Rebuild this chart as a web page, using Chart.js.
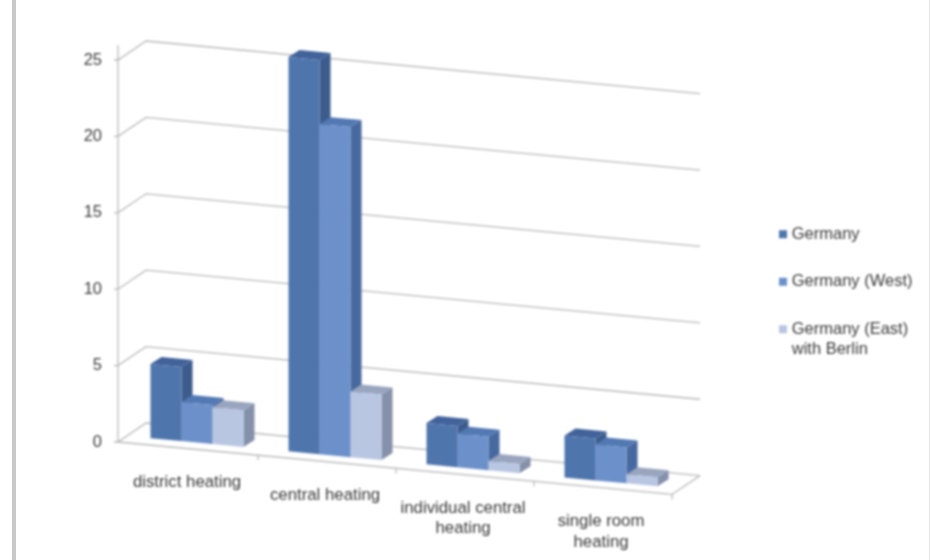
<!DOCTYPE html>
<html>
<head>
<meta charset="utf-8">
<script src="https://cdn.jsdelivr.net/npm/chart.js@4/dist/chart.umd.min.js"></script>
<style>
  html, body { margin: 0; background: #fff; }
  #frame { position: relative; width: 931px; height: 560px; overflow: hidden; }
  #frame canvas { display: block; filter: blur(0.8px); }
  .edge { position: absolute; top: 0; bottom: 0; background: #c9c9c9; }
</style>
</head>
<body>
<div id="frame">
  <canvas id="chart" width="931" height="560"></canvas>
  <div class="edge" style="left:12px;width:4px"></div>
  <div class="edge" style="left:929px;width:1px;background:#e6e6e6"></div>
</div>
<script>
const categories = ['district heating', 'central heating', ['individual central', 'heating'], ['single room', 'heating']]
const germany = [4.85, 25.8, 2.7, 2.75]
const germanyWest = [2.55, 21.6, 2.2, 2.35]
const germanyEast = [2.4, 4.3, 0.6, 0.6]

const faces = [
    { front: '#4f75ad', side: '#3d5c8d', top: '#41629a' },
    { front: '#6c90ca', side: '#47699f', top: '#5279b3' },
    { front: '#b9c6e2', side: '#8591aa', top: '#99a5bf' }
]

const slope = 0.095        // floor runs downhill to the right
const wall = { dx: 26, dy: -19 }
const barShift = { dx: 8, dy: -6 }
const barDepth = { dx: 11, dy: -7 }

const fakeDepth = {
    id: 'fakeDepth',
    afterLayout(chart) {
        // legend sits well away from the plot
        const legend = chart.legend
        const w = legend.width, h = legend.height
        legend.left = 751.5
        legend.right = legend.left + w
        legend.top = 44
        legend.bottom = legend.top + h
    },
    beforeDatasetsDraw(chart) {
        const { ctx, chartArea, scales } = chart
        const left = chartArea.left, axisX = left - 2
        const floorWidth = chartArea.right - chartArea.left
        ctx.save()
        ctx.strokeStyle = '#b9b9b9'
        ctx.lineWidth = 1.3

        scales.y.ticks.forEach((tick) => {
            const y = scales.y.getPixelForValue(tick.value)
            ctx.beginPath()
            ctx.moveTo(axisX - 4, y)
            ctx.lineTo(axisX, y)
            ctx.lineTo(left + wall.dx, y + wall.dy)
            ctx.lineTo(left + wall.dx + floorWidth + 2, y + wall.dy + slope * (floorWidth + 2))
            ctx.stroke()
        })

        const zero = scales.y.getPixelForValue(0)
        ctx.beginPath()
        ctx.moveTo(axisX, zero)
        ctx.lineTo(axisX, scales.y.getPixelForValue(25) - 15)
        ctx.stroke()

        // front and right edge of the floor
        ctx.beginPath()
        ctx.moveTo(axisX, zero)
        ctx.lineTo(left + floorWidth, zero + slope * floorWidth)
        ctx.lineTo(left + wall.dx + floorWidth + 2, zero + wall.dy + slope * (floorWidth + 2))
        ctx.stroke()

        categories.forEach((c, i) => {
            const x = left + (i + 1) * floorWidth / categories.length
            const y = zero + slope * (x - left)
            ctx.beginPath()
            ctx.moveTo(x, y)
            ctx.lineTo(x, y + 5)
            ctx.stroke()
        })

        // category labels follow the slope, so the axis can't place them
        ctx.fillStyle = '#3a3a3a'
        ctx.font = '16.8px "Liberation Sans"'
        ctx.textAlign = 'center'
        ctx.textBaseline = 'middle'
        categories.forEach((label, i) => {
            const x = scales.x.getPixelForTick(i)
            const y = zero + slope * (x - left) + 33.5
            const lines = Array.isArray(label) ? label : [label]
            lines.forEach((line, n) => ctx.fillText(line, x - 2, y + n * 20.5))
        })
        ctx.restore()
    },
    beforeDatasetDraw() {
        return false
    },
    afterDatasetsDraw(chart) {
        const { ctx, chartArea } = chart
        // left bar first so the next one covers its side face
        chart.data.datasets.forEach((dataset, i) => {
            const meta = chart.getDatasetMeta(i)
            ctx.save()
            ctx.translate(barShift.dx, barShift.dy)
            ctx.transform(1, slope, 0, 1, 0, -slope * chartArea.left)
            const dx = barDepth.dx
            const dy = barDepth.dy - slope * dx
            meta.data.forEach((bar) => {
                const l = bar.x - bar.width / 2, r = bar.x + bar.width / 2
                ctx.fillStyle = faces[i].side
                ctx.beginPath()
                ctx.moveTo(r, bar.y)
                ctx.lineTo(r + dx, bar.y + dy)
                ctx.lineTo(r + dx, bar.base + dy)
                ctx.lineTo(r, bar.base)
                ctx.closePath()
                ctx.fill()
                ctx.fillStyle = faces[i].top
                ctx.beginPath()
                ctx.moveTo(l, bar.y)
                ctx.lineTo(l + dx, bar.y + dy)
                ctx.lineTo(r + dx, bar.y + dy)
                ctx.lineTo(r, bar.y)
                ctx.closePath()
                ctx.fill()
            })
            meta.controller.draw()
            ctx.restore()
        })
    }
}

new Chart(document.getElementById('chart'), {
    type: 'bar',
    data: {
        labels: categories,
        datasets: [
            { label: 'Germany', data: germany, backgroundColor: faces[0].front },
            { label: 'Germany (West)', data: germanyWest, backgroundColor: faces[1].front },
            { label: ['Germany (East)', 'with Berlin'], data: germanyEast, backgroundColor: faces[2].front }
        ]
    },
    plugins: [fakeDepth],
    options: {
        responsive: false,
        animation: false,
        layout: { padding: { top: 60, right: 88, bottom: 0, left: 0 } },
        datasets: { bar: { categoryPercentage: 0.674, barPercentage: 1, borderWidth: 0 } },
        scales: {
            x: {
                grid: { display: false },
                border: { display: false },
                ticks: { display: false },
                afterFit(scale) { scale.height = 118 }
            },
            y: {
                min: 0,
                max: 25,
                grid: { display: false },
                border: { display: false },
                ticks: {
                    stepSize: 5,
                    padding: 10,
                    color: '#3a3a3a',
                    font: { family: '"Liberation Sans"', size: 16.5 }
                },
                afterFit(scale) { scale.width = 120 }
            }
        },
        plugins: {
            title: { display: false },
            tooltip: { enabled: false },
            legend: {
                position: 'right',
                labels: {
                    usePointStyle: true,
                    pointStyle: 'rect',
                    boxWidth: 1,
                    boxHeight: 8,
                    padding: 31,
                    color: '#3a3a3a',
                    font: { family: '"Liberation Sans"', size: 16.5, lineHeight: 1.25 }
                }
            }
        }
    }
})
</script>
</body>
</html>
